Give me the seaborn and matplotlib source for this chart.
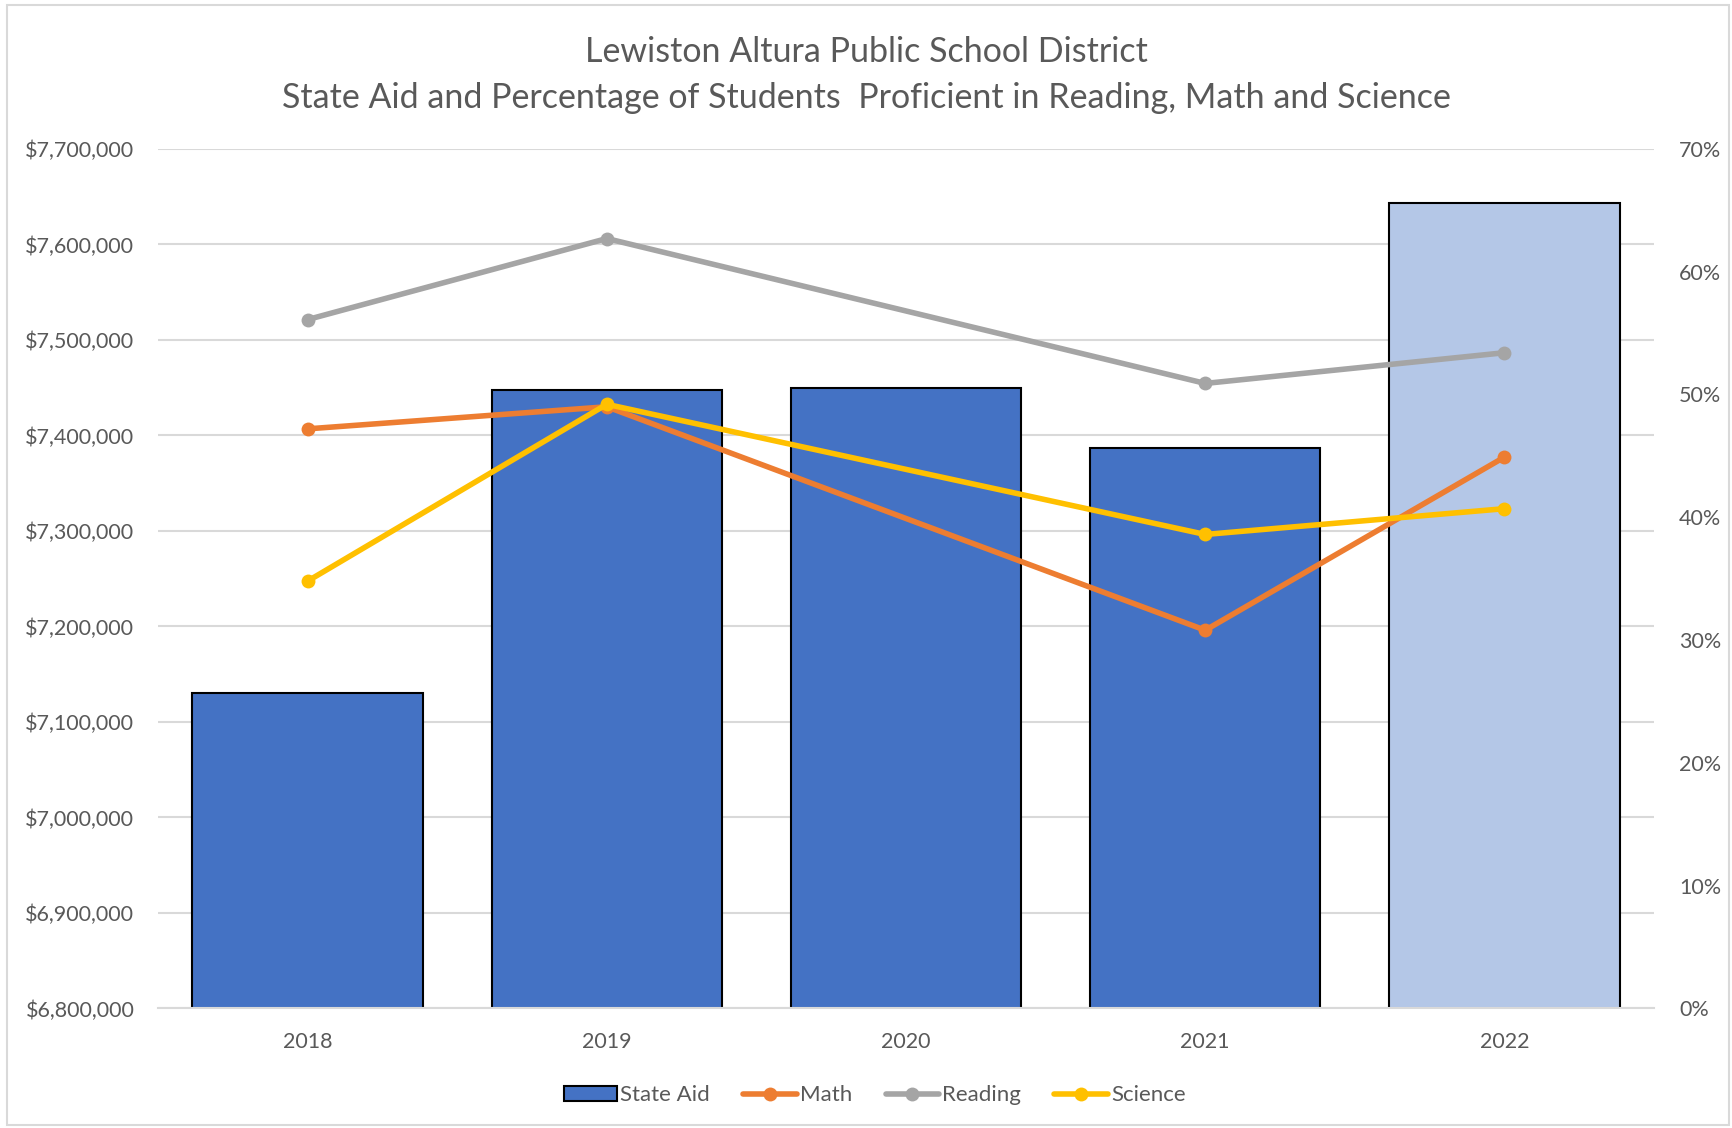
import numpy as np
import pandas as pd
import matplotlib
matplotlib.use("Agg")
import matplotlib.pyplot as plt
import matplotlib.ticker as mticker
from matplotlib.lines import Line2D
from matplotlib.patches import Patch, Rectangle
import seaborn as sns

# data
years = ["2018", "2019", "2020", "2021", "2022"]
state_aid = [7130000, 7448000, 7450000, 7387000, 7643000]
math = [47.2, 49.0, np.nan, 30.8, 44.9]
reading = [56.1, 62.7, np.nan, 50.9, 53.4]
science = [34.8, 49.2, np.nan, 38.6, 40.7]

bar_colors = ["#4472C4", "#4472C4", "#4472C4", "#4472C4", "#B4C7E7"]
line_colors = {"Math": "#ED7D31", "Reading": "#A5A5A5", "Science": "#FFC000"}
text_color = "#595959"
grid_color = "#D9D9D9"

sns.set_style("white")
plt.rcParams["font.family"] = ["Lato", "DejaVu Sans"]

fig = plt.figure(figsize=(17.32, 11.28), dpi=100)
ax = fig.add_axes([0.0912, 0.106, 0.8638, 0.762])

# --- bars: state aid ---
bars_df = pd.DataFrame({"year": years, "aid": state_aid})
sns.barplot(data=bars_df, x="year", y="aid", hue="year", palette=bar_colors,
            legend=False, width=0.77, edgecolor="black", linewidth=1.5,
            saturation=1, ax=ax)
ax.set_ylim(6800000, 7700000)
ax.set_xlim(-0.5, 4.5)
ax.yaxis.set_major_locator(mticker.MultipleLocator(100000))
ax.yaxis.set_major_formatter(mticker.FuncFormatter(lambda v, p: f"${v:,.0f}"))
ax.grid(axis="y", color=grid_color, linewidth=1.5)
ax.set_axisbelow(True)
ax.set_xlabel("")
ax.set_ylabel("")
for s in ["top", "right", "left"]:
    ax.spines[s].set_visible(False)
ax.spines["bottom"].set_color(grid_color)
ax.spines["bottom"].set_linewidth(1.5)
ax.tick_params(axis="both", length=0, labelsize=15.5, colors=text_color)
ax.tick_params(axis="x", pad=17)
ax.tick_params(axis="y", pad=17)

# --- lines: proficiency percentages ---
ax2 = ax.twinx()
lines_df = pd.DataFrame({
    "pos": list(range(len(years))) * 3,
    "pct": math + reading + science,
    "subject": ["Math"] * 5 + ["Reading"] * 5 + ["Science"] * 5,
}).dropna()
sns.lineplot(data=lines_df, x="pos", y="pct", hue="subject", palette=line_colors,
             marker="o", markersize=10, markeredgewidth=0, linewidth=4,
             legend=False, ax=ax2)
ax2.set_ylim(0, 70)
ax2.set_xlim(-0.5, 4.5)
ax2.yaxis.set_major_locator(mticker.MultipleLocator(10))
ax2.yaxis.set_major_formatter(mticker.FuncFormatter(lambda v, p: f"{v:.0f}%"))
ax2.grid(False)
ax2.set_xlabel("")
ax2.set_ylabel("")
for s in ax2.spines.values():
    s.set_visible(False)
ax2.tick_params(axis="y", length=0, labelsize=15.5, colors=text_color, pad=18)

# --- title ---
fig.text(0.5, 0.954, "Lewiston Altura Public School District", ha="center", va="center",
         fontsize=24.5, color=text_color)
fig.text(0.5, 0.913, "State Aid and Percentage of Students  Proficient in Reading, Math and Science",
         ha="center", va="center", fontsize=24.5, color=text_color)

# --- legend ---
handles = [Patch(facecolor="#4472C4", edgecolor="black", linewidth=1.5, label="State Aid")]
for name in ["Math", "Reading", "Science"]:
    handles.append(Line2D([0], [0], color=line_colors[name], lw=4, marker="o",
                          markersize=10, markeredgewidth=0, label=name))
fig.legend(handles=handles, loc="center", bbox_to_anchor=(0.505, 0.029), ncol=4,
           frameon=False, fontsize=16, labelcolor=text_color, handlelength=2.4,
           handletextpad=0.15, columnspacing=1.5)

# chart border
fig.patches.append(Rectangle((0.004, 0.003), 0.994, 0.993, transform=fig.transFigure,
                             fill=False, edgecolor=grid_color, linewidth=1.5))

fig.savefig("out.png", dpi=100)
